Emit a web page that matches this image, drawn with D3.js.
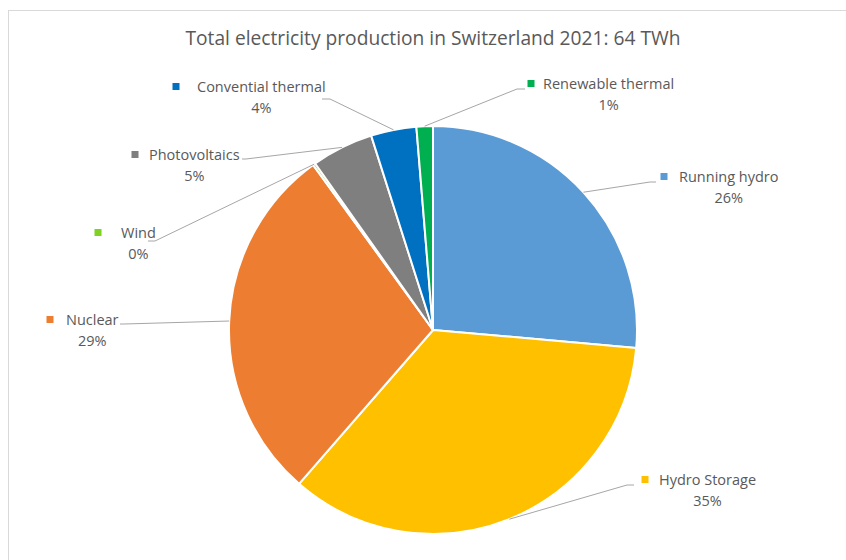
<!DOCTYPE html>
<html lang="en">
<head>
    <meta charset="UTF-8">
    <title>Electricity production Switzerland 2021</title>
    <style>
        body { margin: 0; background: #fff; }
        text { font-family: "Open Sans", "Noto Sans", sans-serif; fill: #595959; }
        .leader { fill: none; stroke: #a6a6a6; stroke-width: 1; }
    </style>
</head>
<body>
<script src="https://d3js.org/d3.v7.min.js"></script>
<script>
    // data: share of production, percent, clockwise from 12 o'clock
    const categories = ['Running hydro', 'Hydro Storage', 'Nuclear', 'Wind', 'Photovoltaics', 'Convential thermal', 'Renewable thermal'];
    const shares = [26.4, 35.0, 28.6, 0.2, 4.9, 3.6, 1.3];
    const colors = ['#5b9bd5', '#ffc000', '#ed7d31', '#7fd320', '#7f7f7f', '#0070c0', '#00b050'];
    const title = 'Total electricity production in Switzerland 2021: 64 TWh';

    // label layout: marker centre, text start, first line centre y, leader elbow and end
    const labelLayout = [
        {mx: 664, tx: 679, ty: 177, elbow: [650, 182], end: [656, 182]},
        {mx: 645, tx: 659, ty: 480, elbow: [627, 485], end: [634, 485]},
        {mx: 50,  tx: 66,  ty: 320, elbow: [124, 324], end: [120, 324]},
        {mx: 98,  tx: 121, ty: 233, elbow: [155, 241], end: [148, 241]},
        {mx: 135, tx: 149, ty: 155, elbow: [246, 159], end: [242, 159]},
        {mx: 176, tx: 197, ty: 87,  elbow: [330, 99],  end: [322, 99]},
        {mx: 531, tx: 543, ty: 84,  elbow: [517, 89],  end: [525, 89]}
    ];

    const width = 846;
    const height = 560;
    const cx = 433, cy = 330, radius = 204;

    const svg = d3.select('body').append('svg').attr('width', width).attr('height', height);

    // chart frame
    svg.append('rect')
        .attr('x', 8.5).attr('y', 10.5)
        .attr('width', width + 10).attr('height', height + 10)
        .attr('fill', 'none').attr('stroke', '#d9d9d9');

    svg.append('text')
        .attr('x', cx).attr('y', 45)
        .attr('text-anchor', 'middle')
        .style('font-size', '19.2px')
        .text(title);

    const rows = categories.map((c, i) => ({name: c, value: shares[i], color: colors[i], lay: labelLayout[i]}));

    const pie = d3.pie().value(d => d.value).sort(null);
    const arc = d3.arc().innerRadius(0).outerRadius(radius);
    const arcs = pie(rows);

    const g = svg.append('g').attr('transform', `translate(${cx},${cy})`);
    g.selectAll('path').data(arcs).enter().append('path')
        .attr('d', arc)
        .attr('fill', d => d.data.color)
        .attr('stroke', '#fff')
        .attr('stroke-width', 2)
        .attr('stroke-linejoin', 'round');

    // leader lines from slice edge at mid angle
    svg.selectAll('.leader').data(arcs).enter().append('polyline')
        .attr('class', 'leader')
        .attr('points', d => {
            const a = (d.startAngle + d.endAngle) / 2;
            const sx = cx + radius * Math.sin(a);
            const sy = cy - radius * Math.cos(a);
            return [[sx, sy], d.data.lay.elbow, d.data.lay.end].map(p => p.join(',')).join(' ');
        });

    const labels = svg.selectAll('.lbl').data(arcs).enter().append('g').attr('class', 'lbl');
    labels.append('rect')
        .attr('x', d => d.data.lay.mx - 3.5)
        .attr('y', d => d.data.lay.ty - 4)
        .attr('width', 7).attr('height', 7)
        .attr('fill', d => d.data.color);
    labels.each(function (d) {
        const el = d3.select(this);
        const t1 = el.append('text')
            .attr('x', d.data.lay.tx).attr('y', d.data.lay.ty + 5)
            .style('font-size', '14.5px')
            .text(d.data.name);
        const w = t1.node().getComputedTextLength();
        el.append('text')
            .attr('x', d.data.lay.tx + w / 2).attr('y', d.data.lay.ty + 26)
            .attr('text-anchor', 'middle')
            .style('font-size', '14.5px')
            .text(Math.round(d.data.value) + '%');
    });
</script>
</body>
</html>
